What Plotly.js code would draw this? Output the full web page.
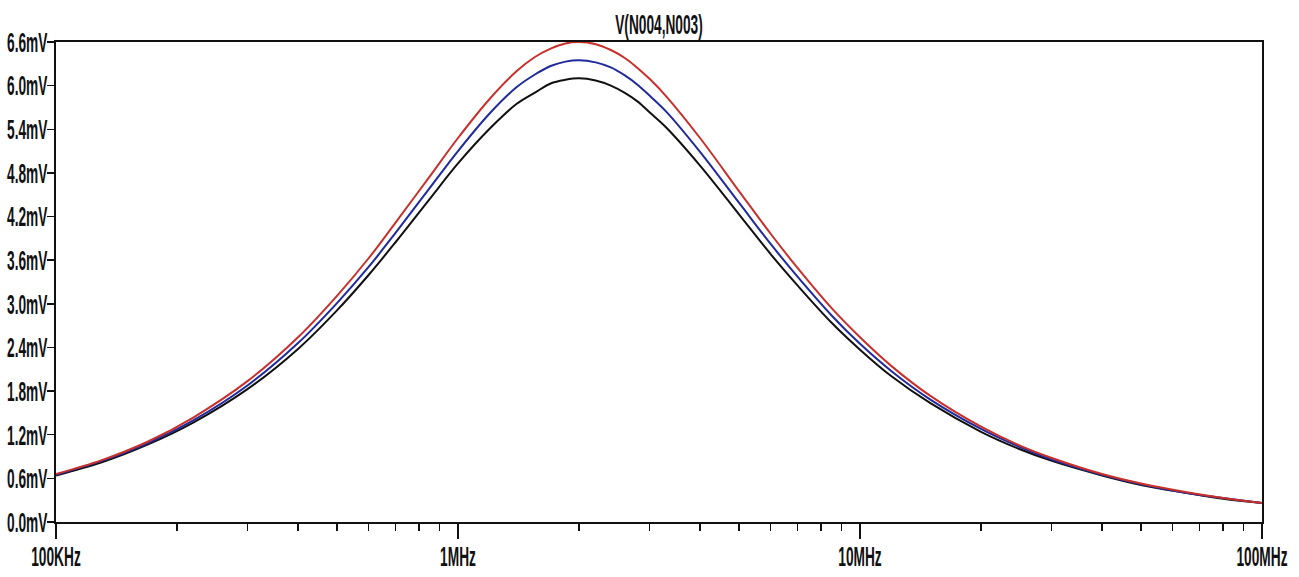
<!DOCTYPE html>
<html>
<head>
<meta charset="utf-8">
<script src="https://cdn.plot.ly/plotly-3.0.1.min.js"></script>
<style>
  html, body { margin: 0; padding: 0; background: #ffffff; }
  #chart { width: 1299px; height: 577px; }
</style>
</head>
<body>
<div id="chart"></div>
<script>
// ---- data (frequency in Hz, voltage in mV) ----
const traceTitle = "V(N004,N003)";
const freqHz = [1e5, 1.3e5, 1.7e5, 2.2e5, 3e5, 4e5, 5e5, 6e5, 7e5, 8.5e5,
                1e6, 1.2e6, 1.4e6, 1.55e6, 1.7e6, 1.85e6, 2e6, 2.2e6, 2.4e6, 2.6e6,
                2.8e6, 3e6, 3.3e6, 4e6, 5e6, 6e6, 7e6, 8.5e6, 1e7, 1.2e7,
                1.5e7, 2e7, 2.5e7, 3e7, 4e7, 5e7, 6.5e7, 8e7, 1e8];
const redMV   = [0.66, 0.85, 1.11, 1.44, 1.94, 2.54, 3.11, 3.63, 4.12, 4.75,
                 5.28, 5.82, 6.20, 6.39, 6.51, 6.58, 6.60, 6.57, 6.49, 6.38,
                 6.24, 6.09, 5.85, 5.28, 4.55, 3.96, 3.49, 2.94, 2.54, 2.14,
                 1.73, 1.31, 1.05, 0.88, 0.66, 0.53, 0.41, 0.33, 0.26];
const blueMV  = [0.65, 0.84, 1.09, 1.40, 1.88, 2.46, 3.01, 3.51, 3.98, 4.59,
                 5.10, 5.62, 5.98, 6.15, 6.27, 6.33, 6.35, 6.32, 6.25, 6.14,
                 6.01, 5.86, 5.64, 5.09, 4.39, 3.82, 3.37, 2.84, 2.45, 2.07,
                 1.68, 1.28, 1.03, 0.86, 0.65, 0.52, 0.40, 0.33, 0.26];
const blackMV = [0.64, 0.82, 1.07, 1.37, 1.83, 2.38, 2.91, 3.40, 3.85, 4.44,
                 4.93, 5.41, 5.75, 5.90, 6.03, 6.08, 6.10, 6.07, 6.00, 5.90,
                 5.78, 5.63, 5.42, 4.90, 4.23, 3.68, 3.25, 2.74, 2.37, 2.00,
                 1.63, 1.24, 1.00, 0.84, 0.64, 0.51, 0.40, 0.32, 0.26];

const xTickVals = [1e5, 1e6, 1e7, 1e8];
const xTickText = ["100KHz", "1MHz", "10MHz", "100MHz"];
const xMinorVals = [2e5,3e5,4e5,5e5,6e5,7e5,8e5,9e5,
                    2e6,3e6,4e6,5e6,6e6,7e6,8e6,9e6,
                    2e7,3e7,4e7,5e7,6e7,7e7,8e7,9e7];
const yTickVals = [0, 0.6, 1.2, 1.8, 2.4, 3.0, 3.6, 4.2, 4.8, 5.4, 6.0, 6.6];
const yTickText = ["0.0mV","0.6mV","1.2mV","1.8mV","2.4mV","3.0mV",
                   "3.6mV","4.2mV","4.8mV","5.4mV","6.0mV","6.6mV"];

// ---- styling ----
const labelFont = { family: "Liberation Sans, Arial, sans-serif", size: 28, color: "#111111", weight: "bold" };
function line(y, color) {
  return { x: freqHz, y: y, type: "scatter", mode: "lines",
           line: { color: color, width: 2, shape: "spline", smoothing: 1 },
           hoverinfo: "skip", showlegend: false };
}
const data = [
  line(blackMV, "#111111"),
  line(blueMV, "#1f2a9c"),
  line(redMV, "#c8302c")
];

const layout = {
  width: 1299, height: 577,
  paper_bgcolor: "#ffffff", plot_bgcolor: "#ffffff",
  margin: { l: 56, r: 37, t: 42, b: 55, pad: 0 },
  showlegend: false,
  title: { text: traceTitle, font: labelFont, x: 0.5, xref: "paper",
           y: 1 - 24/577, yref: "container", yanchor: "middle" },
  xaxis: {
    type: "log", range: [5, 8], showgrid: false, zeroline: false,
    showline: true, linecolor: "#111111", linewidth: 2, mirror: true,
    tickmode: "array", tickvals: xTickVals, ticktext: xTickText,
    ticks: "outside", ticklen: 15, tickwidth: 1.3, tickcolor: "#111111",
    tickfont: labelFont, ticklabelstandoff: -7, ticklabeloverflow: "allow",
    minor: { tickmode: "array", tickvals: xMinorVals, ticks: "outside",
             ticklen: 7, tickwidth: 1.3, tickcolor: "#111111", showgrid: false }
  },
  yaxis: {
    range: [0, 6.6], showgrid: false, zeroline: false,
    showline: true, linecolor: "#111111", linewidth: 2, mirror: true,
    tickmode: "array", tickvals: yTickVals, ticktext: yTickText,
    ticks: "outside", ticklen: 7, tickwidth: 1.5, tickcolor: "#111111",
    tickfont: labelFont, ticklabelstandoff: -6, ticklabeloverflow: "allow"
  }
};

// condense the label glyphs horizontally (the reference uses a very narrow face)
function squeeze() {
  const s = 0.49;
  document.querySelectorAll("#chart .xtick text, #chart .ytick text, #chart .gtitle").forEach(t => {
    const x = parseFloat(t.getAttribute("x") || 0);
    const y = parseFloat(t.getAttribute("y") || 0);
    const T = t.getAttribute("transform") || "";
    const suffix = " translate(" + x + "," + y + ") scale(" + s + ",1) translate(" + (-x) + "," + (-y) + ")";
    if (!T.endsWith(suffix)) t.setAttribute("transform", T + suffix);
  });
}

const gd = document.getElementById("chart");
Plotly.newPlot(gd, data, layout, { staticPlot: true, displayModeBar: false }).then(() => {
  squeeze();
  gd.on("plotly_afterplot", squeeze);
});
</script>
</body>
</html>
